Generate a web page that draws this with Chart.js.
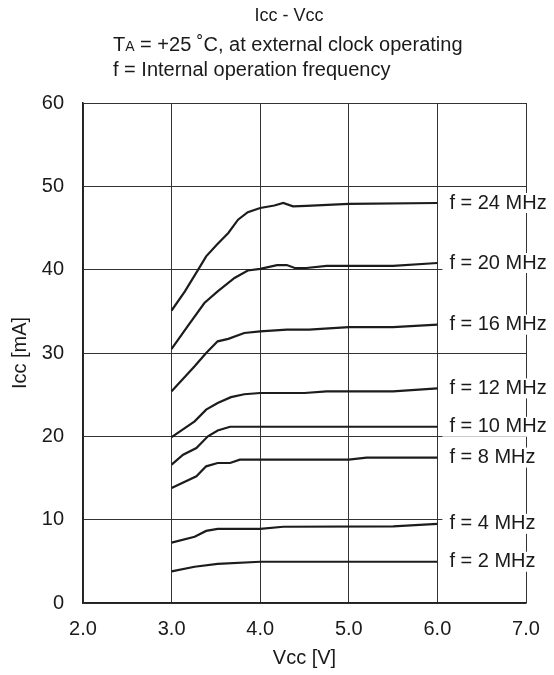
<!DOCTYPE html>
<html>
<head>
<meta charset="utf-8">
<script src="https://cdn.jsdelivr.net/npm/chart.js@4"></script>
<style>
  html, body { margin: 0; padding: 0; background: #fff; }
  canvas { display: block; }
</style>
</head>
<body>
<canvas id="graph" width="554" height="675"></canvas>
<script>
// Icc vs Vcc, one curve per internal operation frequency
var freqLabels = ['f = 24 MHz', 'f = 20 MHz', 'f = 16 MHz', 'f = 12 MHz', 'f = 10 MHz', 'f = 8 MHz', 'f = 4 MHz', 'f = 2 MHz'];

var vcc24 = [3.0, 3.15, 3.30, 3.39, 3.51, 3.64, 3.75, 3.86, 4.0, 4.16, 4.26, 4.37, 4.52, 5.0, 6.0];
var icc24 = [35.1, 37.4, 40.0, 41.6, 43.0, 44.4, 46.0, 46.9, 47.4, 47.7, 48.0, 47.6, 47.65, 47.9, 48.0];

var vcc20 = [3.0, 3.18, 3.37, 3.52, 3.71, 3.86, 4.0, 4.19, 4.3, 4.39, 4.52, 4.75, 5.5, 6.0];
var icc20 = [30.5, 33.2, 36.0, 37.4, 39.0, 39.9, 40.1, 40.55, 40.55, 40.2, 40.2, 40.45, 40.45, 40.8];

var vcc16 = [3.0, 3.26, 3.39, 3.52, 3.64, 3.82, 4.0, 4.3, 4.55, 5.0, 5.5, 6.0];
var icc16 = [25.4, 28.4, 30.0, 31.4, 31.7, 32.4, 32.6, 32.8, 32.8, 33.1, 33.1, 33.4];

var vcc12 = [3.0, 3.26, 3.39, 3.52, 3.67, 3.82, 4.0, 4.5, 4.75, 5.5, 6.0];
var icc12 = [19.9, 21.8, 23.2, 24.0, 24.7, 25.05, 25.2, 25.2, 25.4, 25.4, 25.75];

var vcc10 = [3.0, 3.13, 3.28, 3.41, 3.52, 3.66, 6.0];
var icc10 = [16.6, 17.8, 18.6, 20.0, 20.7, 21.15, 21.15];

var vcc8 = [3.0, 3.28, 3.39, 3.52, 3.66, 3.77, 5.0, 5.2, 6.0];
var icc8 = [13.8, 15.2, 16.4, 16.8, 16.8, 17.2, 17.2, 17.45, 17.45];

var vcc4 = [3.0, 3.26, 3.39, 3.52, 4.0, 4.26, 5.5, 6.0];
var icc4 = [7.25, 7.95, 8.65, 8.9, 8.9, 9.15, 9.2, 9.5];

var vcc2 = [3.0, 3.26, 3.52, 4.0, 6.0];
var icc2 = [3.8, 4.35, 4.7, 4.95, 4.95];

var xTicks = [2, 3, 4, 5, 6, 7];
var yTicks = [0, 10, 20, 30, 40, 50, 60];

var seriesV = [vcc24, vcc20, vcc16, vcc12, vcc10, vcc8, vcc4, vcc2];
var seriesI = [icc24, icc20, icc16, icc12, icc10, icc8, icc4, icc2];

var FONT = "'Liberation Sans', Arial, sans-serif";

function toPoints(xs, ys) {
    return xs.map((x, i) => ({ x: x, y: ys[i] }));
}

var datasets = freqLabels.map((label, i) => ({
    label: label,
    data: toPoints(seriesV[i], seriesI[i]),
    borderColor: '#1c1c1c',
    borderWidth: 2.2,
    pointRadius: 0,
    tension: 0,
    fill: false
}));

// header text and right-hand curve labels
var annotations = {
    id: 'annotations',
    afterDraw(chart) {
        var ctx = chart.ctx;
        ctx.save();
        ctx.fillStyle = '#1a1a1a';
        ctx.textBaseline = 'alphabetic';

        ctx.font = '18px ' + FONT;
        ctx.textAlign = 'center';
        ctx.fillText('Icc - Vcc', 289, 21);

        ctx.textAlign = 'left';
        var x = 113;
        ctx.font = '20px ' + FONT;
        ctx.fillText('T', x, 51);
        x += ctx.measureText('T').width;
        ctx.font = '14px ' + FONT;
        ctx.fillText('A', x, 51);
        x += ctx.measureText('A').width;
        ctx.font = '20px ' + FONT;
        ctx.fillText(' = +25 ˚C, at external clock operating', x, 51);
        ctx.fillText('f = Internal operation frequency', 113, 76);

        // labels sit at the end of each curve, masking the grid behind them
        ctx.textBaseline = 'middle';
        chart.data.datasets.forEach((ds, i) => {
            var pts = chart.getDatasetMeta(i).data;
            var last = pts[pts.length - 1];
            ctx.fillStyle = '#fff';
            ctx.fillRect(last.x + 5, last.y - 10, chart.width - last.x, 20);
            ctx.fillStyle = '#1a1a1a';
            ctx.fillText(ds.label, last.x + 12, last.y);
        });
        ctx.restore();
    }
};

var ctx = document.getElementById('graph').getContext('2d');
var graph = new Chart(ctx, {
    type: 'line',
    data: { datasets: datasets },
    plugins: [annotations],
    options: {
        responsive: false,
        animation: false,
        devicePixelRatio: 1,
        layout: { padding: { top: 103, right: 28, left: 0, bottom: 0 } },
        plugins: {
            legend: { display: false },
            tooltip: { enabled: false }
        },
        scales: {
            x: {
                type: 'linear',
                position: 'bottom',
                min: 2,
                max: 7,
                afterFit: s => { s.height = 72; },
                afterBuildTicks: s => { s.ticks = xTicks.map(v => ({ value: v })); },
                ticks: {
                    color: '#1a1a1a',
                    font: { family: FONT, size: 20 },
                    padding: 14,
                    maxRotation: 0,
                    callback: v => v.toFixed(1)
                },
                grid: { color: '#333', lineWidth: 1, drawTicks: false },
                border: { color: '#222', width: 1.5 },
                title: {
                    display: true,
                    text: 'Vcc [V]',
                    color: '#1a1a1a',
                    font: { family: FONT, size: 20 },
                    padding: { top: 0, bottom: 5 }
                }
            },
            y: {
                type: 'linear',
                position: 'left',
                min: 0,
                max: 60,
                afterFit: s => { s.width = 83; },
                afterBuildTicks: s => { s.ticks = yTicks.map(v => ({ value: v })); },
                ticks: {
                    color: '#1a1a1a',
                    font: { family: FONT, size: 20 },
                    padding: 19
                },
                grid: { color: '#333', lineWidth: 1, drawTicks: false },
                border: { color: '#222', width: 1.5 },
                title: {
                    display: true,
                    text: 'Icc [mA]',
                    color: '#1a1a1a',
                    font: { family: FONT, size: 20 },
                    padding: { top: 8, bottom: 0 }
                }
            }
        }
    }
});
</script>
</body>
</html>
